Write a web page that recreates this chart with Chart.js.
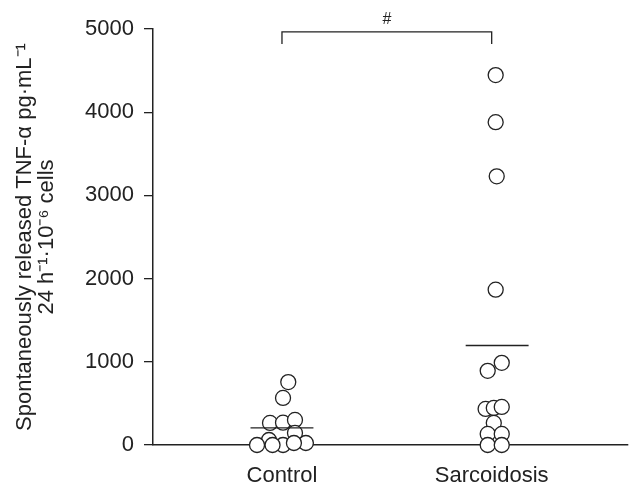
<!DOCTYPE html>
<html>
<head>
<meta charset="utf-8">
<script src="https://cdn.jsdelivr.net/npm/chart.js@4"></script>
<style>
	html, body { margin:0; padding:0; background:#fff; }
	#wrap { position:relative; width:629px; height:484px; }
</style>
</head>
<body>
<div id="wrap"><canvas id="c"></canvas></div>
<script>
// groups on the x axis (1 = Control, 2 = Sarcoidosis)
const groups = ['Control', 'Sarcoidosis'];

// individual values, TNF-alpha pg/mL, with small horizontal jitter around the group position
const controlX = [1.03, 1.005, 0.943, 1.005, 1.062, 1.062, 0.938, 0.881, 1.005, 1.114, 1.057, 0.955];
const controlY = [756, 566, 265, 268, 301, 145, 60, 0, 0, 24, 24, 0];
const sarcX = [2.019, 2.019, 2.024, 2.019, 2.048, 1.981, 1.971, 2.01, 2.048, 2.01, 1.981, 2.048, 1.981, 2.048];
const sarcY = [4446, 3880, 3229, 1867, 988, 892, 434, 446, 458, 265, 133, 133, 0, 0];

// group means (horizontal bars)
const controlMean = 205;
const sarcMean = 1196;

// significance bracket
const bracketTop = 4965;
const bracketFoot = 4820;
const bracketLabel = '#';

const yTicks = [0, 1000, 2000, 3000, 4000, 5000];
const FONT = '"Liberation Sans", Arial, sans-serif';
const INK = '#222';

const pts = (xs, ys) => xs.map((x, i) => ({x, y: ys[i]}));

const hashLabel = {
	id: 'hashLabel',
	afterDraw: chart => {
		const {ctx, scales: {x, y}} = chart;
		ctx.save();
		ctx.font = `16px ${FONT}`;
		ctx.fillStyle = INK;
		ctx.textAlign = 'center';
		ctx.textBaseline = 'middle';
		ctx.fillText(bracketLabel, x.getPixelForValue(1.5), y.getPixelForValue(bracketTop) - 12);
		ctx.restore();
	}
};

const lineSet = data => ({
	type: 'line', data, borderColor: INK, borderWidth: 1.3,
	pointRadius: 0, fill: false, tension: 0, clip: false
});

new Chart(document.getElementById('c'), {
	type: 'scatter',
	data: {
		datasets: [
			lineSet([{x: 0.85, y: controlMean}, {x: 1.15, y: controlMean}]),
			lineSet([{x: 1.876, y: sarcMean}, {x: 2.176, y: sarcMean}]),
			lineSet([{x: 1, y: bracketFoot}, {x: 1, y: bracketTop}, {x: 2, y: bracketTop}, {x: 2, y: bracketFoot}]),
			{
				data: pts(controlX, controlY),
				pointRadius: 7.5, pointHoverRadius: 7.5,
				backgroundColor: '#fff', borderColor: INK, borderWidth: 1.3, clip: false
			},
			{
				data: pts(sarcX, sarcY),
				pointRadius: 7.5, pointHoverRadius: 7.5,
				backgroundColor: '#fff', borderColor: INK, borderWidth: 1.3, clip: false
			},
		]
	},
	options: {
		responsive: true,
		maintainAspectRatio: false,
		animation: false,
		layout: { autoPadding: false, padding: { top: 29, right: 1, left: 0, bottom: 0 } },
		plugins: { legend: { display: false }, tooltip: { enabled: false } },
		scales: {
			x: {
				type: 'linear',
				min: 0.385, max: 2.65,
				afterBuildTicks: s => { s.ticks = [{value: 1}, {value: 2}] },
				afterFit: s => { s.height = 39; s.paddingLeft = 0; s.paddingRight = 0 },
				ticks: {
					callback: v => groups[v - 1],
					color: INK, font: { family: FONT, size: 22 }, padding: 13,
					maxRotation: 0, autoSkip: false
				},
				grid: { drawOnChartArea: false, drawTicks: true, tickLength: 5, color: INK, lineWidth: 1.3 },
				border: { display: true, color: INK, width: 1.5 },
			},
			y: {
				min: 0, max: 5000,
				afterBuildTicks: s => { s.ticks = yTicks.map(v => ({value: v})) },
				afterFit: s => { s.width = 153 },
				ticks: { callback: v => String(v), color: INK, font: { family: FONT, size: 22 }, padding: 10 },
				grid: { drawOnChartArea: false, drawTicks: true, tickLength: 9, color: INK, lineWidth: 1.3 },
				border: { display: true, color: INK, width: 1.5 },
				title: {
					display: true,
					text: ['Spontaneously released TNF-\u03b1 pg\u00b7mL\u207b\u00b9', '24 h\u207b\u00b9\u00b710\u207b\u2076 cells'],
					color: INK,
					font: { family: FONT, size: 22, lineHeight: 1.0 },
					padding: { top: 14, bottom: 0 }
				}
			}
		}
	},
	plugins: [hashLabel]
});
</script>
</body>
</html>
